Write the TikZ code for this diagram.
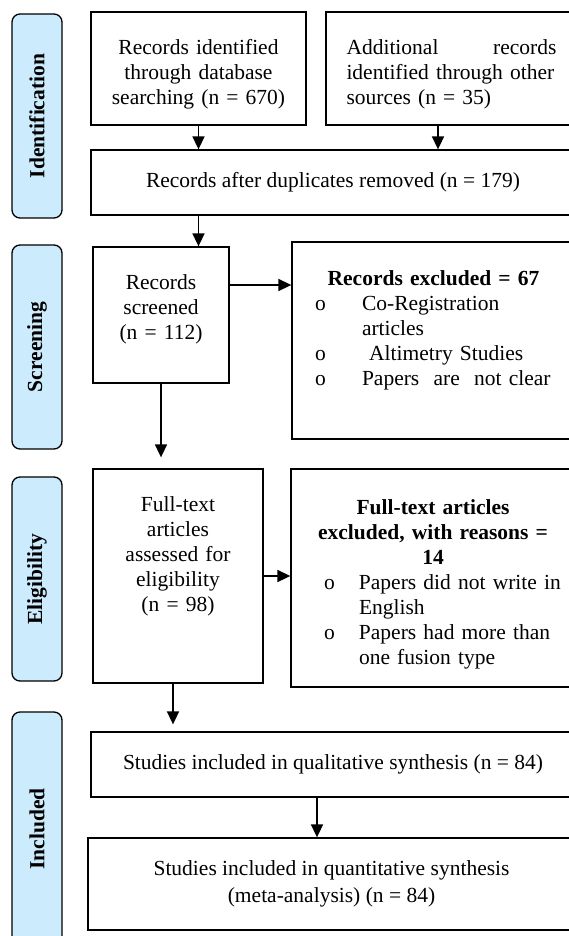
\documentclass[tikz,border=0pt]{standalone}
\usepackage{fontspec}
\setmainfont{Liberation Serif}
\usetikzlibrary{%
  arrows.meta,%
  calc%
}
\definecolor{phaseblue}{RGB}{204,235,253}
\newcommand{\bitem}[3]{\makebox[#1][l]{\makebox[#2][l]{o}#3}}
\newcommand{\bcont}[3]{\makebox[#1][l]{\hspace*{#2}#3}}
\tikzset{>={Triangle[width=12pt,length=13pt]}, box/.style = {draw, line width=1.3pt,
	    inner sep=0pt, align=center, font=\fontsize{21.5}{25}\selectfont},%
		phase/.style={draw, line width=1.3pt, rounded corners=8pt, fill=phaseblue,
        minimum height=50pt, rotate=90, font=\fontsize{21.5}{25}\selectfont\bfseries},
        flow/.style={->, line width=1.6pt}}

\begin{document}
\begin{tikzpicture}[x=1pt,y=-1pt]
    \useasboundingbox (0,0) rectangle (569,936);
    \clip (0,0) rectangle (569,936);
    % phases
    \node[phase, minimum width=204pt] (idph) at (37,116) {Identification};
    \node[phase, minimum width=204pt] (scph) at (37,347) {Screening};
    \node[phase, minimum width=204pt] (elph) at (37,579) {Eligibility};
    \node[phase, minimum width=234pt] (inph) at (37,829) {Included};
    % boxes
    \node[box, minimum width=215pt, minimum height=113pt, text width=205pt] (id1)
    at (198.5,68.5) {\mbox{}\\[2pt]Records identified\\through database\\searching (n = 670)};
    \node[box, minimum width=251pt, minimum height=113pt, text width=210pt, align=left]
    (add) at (451.5,68.5) {\mbox{}\\[2pt]Additional\hfill records\\identified through other\\sources (n = 35)};
    \node[box, minimum width=484pt, minimum height=65pt] (dup) at (333,182.5)
    {Records after duplicates removed (n = 179)};
    \node[box, minimum width=136pt, minimum height=136pt, text width=130pt] (scr)
    at (161,315) {Records\\screened\\(n = 112)\\[-9.5pt]\mbox{}};
    \node[box, minimum width=283pt, minimum height=197pt, text width=275pt] (ex1)
    at (433.5,340.5) {\textbf{Records excluded = 67}\\
    \bitem{237pt}{47pt}{Co-Registration}\\
    \bcont{237pt}{47pt}{articles}\\
    \bitem{237pt}{47pt}{\ Altimetry Studies}\\
    \bitem{237pt}{47pt}{Papers\ \ are\ \ not clear}\\\mbox{}};
    \node[box, minimum width=170pt, minimum height=214pt, text width=164pt] (ft)
    at (178,576) {Full-text\\articles\\assessed for\\eligibility\\(n = 98)\\[18.5pt]\mbox{}};
    \node[box, minimum width=284pt, minimum height=218pt, text width=276pt] (ex2)
    at (433,578) {\mbox{}\\[2pt]\textbf{Full-text articles}\\
    \textbf{excluded, with reasons =}\\
    \textbf{14}\\
    \bitem{218pt}{35pt}{Papers did not write in}\\
    \bcont{218pt}{35pt}{English}\\
    \bitem{218pt}{35pt}{Papers had more than}\\
    \bcont{218pt}{35pt}{one fusion type}};
    \node[box, minimum width=484pt, minimum height=65pt] (qual) at (333,764.5)
    {Studies included in qualitative synthesis (n = 84)};
    \node[box, minimum width=487pt, minimum height=92pt] (quant) at (331.5,884)
    {Studies included in quantitative synthesis\\[2pt](meta-analysis) (n = 84)};
    % arrows
    \draw[flow] (id1.south) -- (id1.south |- dup.north);
    \draw[flow] ([xshift=-13.5pt]add.south) -- ([xshift=-13.5pt]add.south |- dup.north);
    \draw[flow] (id1.south |- dup.south) -- (id1.south |- scr.north);
    \draw[flow] ([yshift=30pt]scr.east) -- ([yshift=30pt]scr.east -| ex1.west);
    \draw[flow] (scr.south) -- ($(scr.south |- ft.north)+(0,-11)$);
    \draw[flow] (ft.east) -- (ft.east -| ex2.west);
    \draw[flow] ([xshift=-5pt]ft.south) -- ($([xshift=-5pt]ft.south |- qual.north)+(0,-7)$);
    \draw[flow] ([xshift=-16pt]qual.south) -- ([xshift=-16pt]qual.south |- quant.north);
\end{tikzpicture}
\end{document}
